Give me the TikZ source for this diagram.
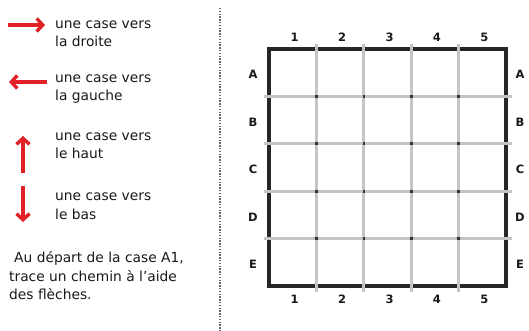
\documentclass[tikz,border=0pt]{standalone}
\usepackage{fontspec}
\setmainfont{DejaVu Sans}
\usetikzlibrary{arrows.meta}
\definecolor{legred}{RGB}{226,32,40}
\definecolor{gridgray}{RGB}{196,196,196}
\definecolor{txtgray}{RGB}{25,25,25}
\tikzset{
legtext/.style={anchor=west,align=left,inner sep=0pt,text=txtgray,font=\fontsize{13.8}{18.5}\selectfont},
legarrow/.style={-{Straight Barb[length=6pt,width=13pt]},line width=3.4pt,legred},
separator/.style={draw=black!60,line width=1.5pt,dash pattern=on 1.4pt off 1.4pt},
gridborder/.style={draw=black!85,line width=3.6pt},
gridline/.style={draw=gridgray,line width=3pt},
griddot/.style={fill=black!80},
collabel/.style={inner sep=0pt,text=black!90,font=\fontsize{11.5}{13}\selectfont\bfseries},
rowlabel/.style={inner sep=0pt,text=black!90,font=\fontsize{11.5}{13}\selectfont\bfseries}
}
\begin{document}
\begin{tikzpicture}[x=1pt,y=-1pt]
\useasboundingbox (0,0) rectangle (529,331);
% legende
\node[legtext] (droite) at (55,33.5) {une case vers\\la droite};
\node[legtext] (gauche) at (55,89) {une case vers\\la gauche};
\node[legtext] (haut) at (55,145.5) {une case vers\\le haut};
\node[legtext] (bas) at (55,206) {une case vers\\le bas};
\node[legtext] (consigne) at (9,276) {\hspace{5pt}Au départ de la case A1,\\trace un chemin à l'aide\\des flèches.};
\coordinate (droiteA) at (8,25);   \coordinate (droiteB) at (45,25);
\coordinate (gaucheA) at (47,82);  \coordinate (gaucheB) at (9,82);
\coordinate (hautA) at (23,173);   \coordinate (hautB) at (23,136);
\coordinate (basA) at (23,186);    \coordinate (basB) at (23,222);
\draw[legarrow] (droiteA) -- (droiteB);
\draw[legarrow] (gaucheA) -- (gaucheB);
\draw[legarrow] (hautA) -- (hautB);
\draw[legarrow] (basA) -- (basB);
% separateur
\coordinate (sepA) at (220,8);
\coordinate (sepB) at (220,331);
\draw[separator] (sepA) -- (sepB);
% quadrillage
\draw[gridborder] (269,49) rectangle (506,286);
\foreach \k in {1,...,4}{
  \draw[gridline] ({269+47.4*\k},44) -- ({269+47.4*\k},292);
  \draw[gridline] (264,{49+47.4*\k}) -- (512,{49+47.4*\k});
}
\foreach \i in {1,...,4}
  \foreach \j in {1,...,4}
    \fill[griddot] ({269+47.4*\i-1.3},{49+47.4*\j-1.3}) rectangle +(2.6,2.6);
% etiquettes
\foreach \n in {1,...,5}{
  \node[collabel] (top\n) at ({269+47.4*(\n-0.5)+2},37) {\n};
  \node[collabel] (bot\n) at ({269+47.4*(\n-0.5)+2},299) {\n};
}
\foreach \r [count=\i] in {A,B,C,D,E}{
  \node[rowlabel] (left\r) at (253,{49+47.4*(\i-0.5)+2}) {\r};
  \node[rowlabel] (right\r) at (520,{49+47.4*(\i-0.5)+2}) {\r};
}
\end{tikzpicture}
\end{document}
